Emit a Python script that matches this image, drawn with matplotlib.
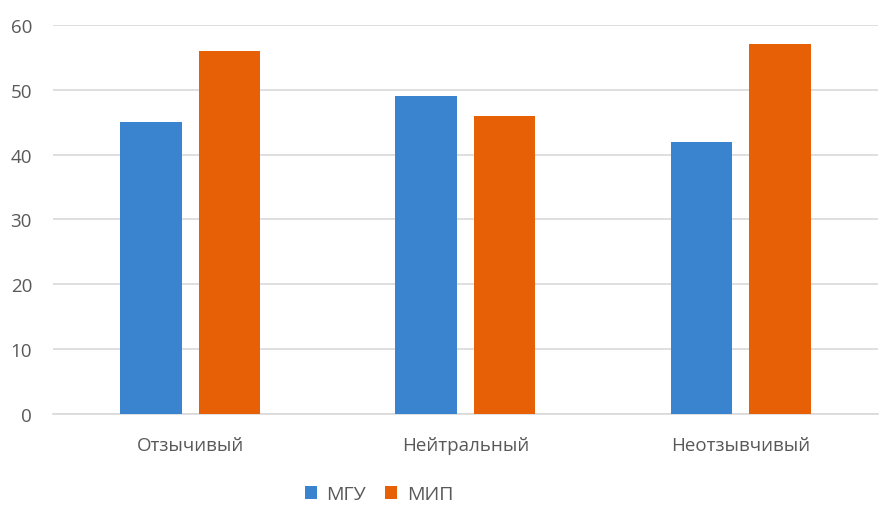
import matplotlib
matplotlib.use("Agg")
import matplotlib.pyplot as plt
import numpy as np

categories = ["Отзычивый", "Нейтральный", "Неотзывчивый"]
series_names = ["МГУ", "МИП"]
mgu_values = [45, 49, 42]
mip_values = [56, 46, 57]
y_ticks = [0, 10, 20, 30, 40, 50, 60]

BLUE = "#3A83CF"
ORANGE = "#E86006"
TEXT = "#595959"

plt.rcParams["font.family"] = ["Open Sans", "DejaVu Sans"]

fig = plt.figure(figsize=(8.96, 5.06), dpi=100)
ax = fig.add_axes([0.059, 0.180, 0.921, 0.769])

x = np.arange(len(categories))
width = 0.225
offset = 0.142
ax.bar(x - offset, mgu_values, width, color=BLUE, label=series_names[0], zorder=3)
ax.bar(x + offset, mip_values, width, color=ORANGE, label=series_names[1], zorder=3)

ax.set_xlim(-0.5, len(categories) - 0.5)
ax.set_ylim(0, 60)
ax.set_yticks(y_ticks)
ax.set_xticks(x)
ax.set_xticklabels(categories)
ax.tick_params(axis="both", length=0, labelsize=13.5, labelcolor=TEXT)
ax.tick_params(axis="x", pad=16)
ax.tick_params(axis="y", pad=15)

ax.grid(axis="y", color="#d9d9d9", linewidth=1.2, zorder=0)
for side in ["top", "right", "left"]:
    ax.spines[side].set_visible(False)
ax.spines["bottom"].set_color("#d9d9d9")
ax.spines["bottom"].set_linewidth(1.2)

leg = fig.legend(
    loc="center",
    bbox_to_anchor=(0.423, 0.021),
    ncol=2,
    frameon=False,
    fontsize=14,
    handlelength=0.6,
    handleheight=0.6,
    handletextpad=0.5,
    columnspacing=1.0,
)
for t in leg.get_texts():
    t.set_color(TEXT)

fig.savefig("out.png", dpi=100, facecolor="white")
